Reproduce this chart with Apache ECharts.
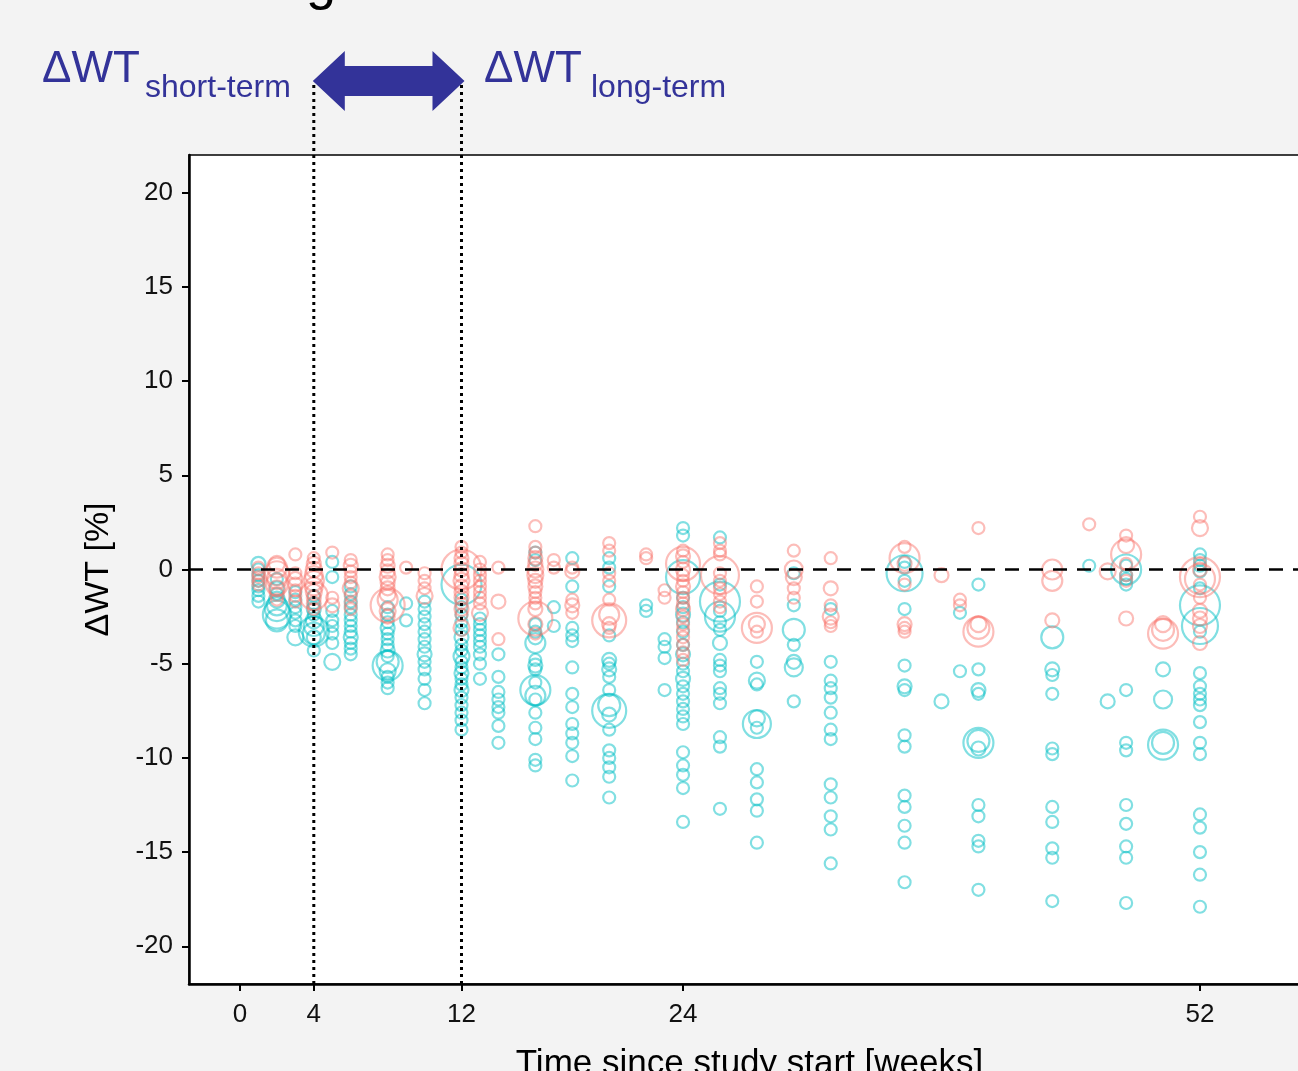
<!DOCTYPE html>
<html lang="en">
<head>
<meta charset="UTF-8">
<title>ΔWT over time</title>
<script src="https://cdn.jsdelivr.net/npm/echarts@6/dist/echarts.min.js"></script>
<style>
  html, body { margin: 0; padding: 0; background: #f3f3f3; }
  #chart { width: 1298px; height: 1071px; }
</style>
</head>
<body>
<div id="chart"></div>
<script>
var xTicks = [0, 4, 12, 24, 52];
var yTicks = [-20, -15, -10, -5, 0, 5, 10, 15, 20];
var windowWeeks = [4, 12];

// [week, ΔWT %, circle size]
var tealPts = [
  [1,0.3,14],[1,0,12],[1,-0.3,12],[1,-0.6,12],[1,-0.9,12],[1,-1.1,12],[1,-1.4,12],[1,-1.7,12],
  [2,-0.5,12],[2,-1.0,14],[2,-1.3,12],[2,-1.6,16],[2,-1.9,20],[2,-2.1,24],[2,-2.4,28],[2,-2.7,22],
  [3,-1.2,12],[3,-1.6,12],[3,-2.0,12],[3,-2.3,12],[3,-2.7,12],[3,-3.0,12],[3,-3.6,16],
  [4,-1.4,12],[4,-1.8,12],[4,-2.1,14],[4,-2.4,12],[4,-2.7,16],[4,-3.0,20],[4,-3.3,30],[4,-3.4,22],[4,-3.6,14],[4,-4.3,12],
  [5,0.4,12],[5,-0.4,12],[5,-2.2,12],[5,-2.7,12],[5,-3.0,12],[5,-3.4,12],[5,-3.9,12],[5,-4.9,16],
  [6,-0.9,12],[6,-1.3,12],[6,-1.7,12],[6,-2.0,12],[6,-2.4,12],[6,-2.7,12],[6,-3.0,12],[6,-3.3,12],[6,-3.6,14],[6,-3.9,12],[6,-4.2,12],[6,-4.5,12],
  [8,-2.0,12],[8,-2.4,12],[8,-2.8,12],[8,-3.1,14],[8,-3.4,12],[8,-3.7,12],[8,-4.0,12],[8,-4.3,14],[8,-4.6,12],[8,-4.9,22],[8,-5.1,30],[8,-5.4,16],[8,-5.7,12],[8,-6.0,12],[8,-6.3,12],
  [9,-1.8,12],[9,-2.7,12],
  [10,-1.7,12],[10,-2.1,12],[10,-2.5,12],[10,-2.9,12],[10,-3.3,12],[10,-3.7,12],[10,-4.1,12],[10,-4.5,14],[10,-4.9,12],[10,-5.3,12],[10,-5.8,12],[10,-6.4,12],[10,-7.1,12],
  [12,-0.8,40],[12,-1.6,12],[12,-2.0,12],[12,-2.4,12],[12,-2.8,12],[12,-3.2,12],[12,-3.6,14],[12,-4.0,12],[12,-4.3,12],[12,-4.6,16],[12,-4.9,12],[12,-5.2,12],[12,-5.5,14],[12,-5.8,12],[12,-6.1,12],[12,-6.4,14],[12,-6.8,12],[12,-7.2,12],[12,-7.6,12],[12,-8.0,12],[12,-8.5,12],
  [13,-2.6,12],[13,-2.9,12],[13,-3.2,12],[13,-3.5,12],[13,-3.8,12],[13,-4.1,12],[13,-4.5,12],[13,-5.0,12],[13,-5.8,12],
  [14,-4.5,12],[14,-5.7,12],[14,-6.5,12],[14,-6.9,12],[14,-7.3,12],[14,-7.6,12],[14,-8.3,12],[14,-9.2,12],
  [16,0.9,12],[16,0.5,12],[16,-2.9,12],[16,-3.3,12],[16,-3.6,14],[16,-3.9,20],[16,-4.8,12],[16,-5.1,14],[16,-5.3,12],[16,-6.0,12],[16,-6.4,30],[16,-6.7,20],[16,-6.9,12],[16,-7.6,12],[16,-8.4,12],[16,-9.0,12],[16,-10.1,12],[16,-10.4,12],
  [17,-2.0,12],[17,-3.0,12],
  [18,0.6,12],[18,-0.9,12],[18,-3.1,12],[18,-3.5,12],[18,-3.8,12],[18,-5.2,12],[18,-6.6,12],[18,-7.3,12],[18,-8.2,12],[18,-8.7,12],[18,-9.2,12],[18,-9.9,12],[18,-11.2,12],
  [20,0.6,12],[20,0.1,12],[20,-0.9,12],[20,-3.5,12],[20,-4.8,14],[20,-5.0,12],[20,-5.3,14],[20,-5.7,12],[20,-6.4,12],[20,-7.2,22],[20,-7.5,34],[20,-7.7,14],[20,-8.5,12],[20,-9.6,12],[20,-10.0,12],[20,-10.5,12],[20,-11.0,12],[20,-12.1,12],
  [22,-1.9,12],[22,-2.2,12],
  [23,-3.7,12],[23,-4.1,12],[23,-4.7,12],[23,-6.4,12],
  [24,2.2,12],[24,1.8,12],[24,-0.4,34],[24,-1.5,12],[24,-2.0,12],[24,-2.4,14],[24,-2.8,12],[24,-3.3,12],[24,-4.0,12],[24,-4.5,14],[24,-5.0,12],[24,-5.4,12],[24,-5.8,14],[24,-6.2,12],[24,-6.6,12],[24,-7.0,12],[24,-7.4,12],[24,-7.8,12],[24,-8.2,12],[24,-9.7,12],[24,-10.4,12],[24,-10.9,12],[24,-11.6,12],[24,-13.4,12],
  [26,1.7,12],[26,-0.8,12],[26,-1.7,40],[26,-2.2,12],[26,-2.5,30],[26,-2.8,12],[26,-3.2,12],[26,-3.9,14],[26,-4.8,12],[26,-5.1,12],[26,-5.4,12],[26,-6.3,12],[26,-6.6,12],[26,-7.1,12],[26,-8.9,12],[26,-9.4,12],[26,-12.7,12],
  [28,-4.9,12],[28,-5.9,16],[28,-6.1,12],[28,-7.9,16],[28,-8.2,28],[28,-8.4,12],[28,-10.6,12],[28,-11.3,12],[28,-12.2,12],[28,-12.8,12],[28,-14.5,12],
  [30,-0.2,12],[30,-1.9,12],[30,-3.2,22],[30,-4.0,12],[30,-4.9,14],[30,-5.2,18],[30,-7.0,12],
  [32,-2.1,12],[32,-4.9,12],[32,-5.9,12],[32,-6.3,12],[32,-6.8,12],[32,-7.6,12],[32,-8.5,12],[32,-9.0,12],[32,-11.4,12],[32,-12.1,12],[32,-13.1,12],[32,-13.8,12],[32,-15.6,12],
  [36,0.4,12],[36,0.1,12],[36,-0.2,36],[36,-0.6,12],[36,-2.1,12],[36,-5.1,12],[36,-6.2,14],[36,-6.4,12],[36,-8.8,12],[36,-9.4,12],[36,-12.0,12],[36,-12.6,12],[36,-13.6,12],[36,-14.5,12],[36,-16.6,12],
  [38,-7.0,14],
  [39,-2.3,12],[39,-5.4,12],
  [40,-0.8,12],[40,-5.3,12],[40,-6.4,14],[40,-6.6,12],[40,-9.1,22],[40,-9.2,30],[40,-9.5,14],[40,-12.5,12],[40,-13.1,12],[40,-14.4,12],[40,-14.7,12],[40,-17.0,12],
  [44,-3.6,22],[44,-5.3,14],[44,-5.6,12],[44,-6.6,12],[44,-9.5,12],[44,-9.8,12],[44,-12.6,12],[44,-13.4,12],[44,-14.8,12],[44,-15.3,12],[44,-17.6,12],
  [46,0.2,12],
  [47,-7.0,14],
  [48,0.2,12],[48,0,30],[48,-0.3,12],[48,-0.5,12],[48,-0.8,12],[48,-6.4,12],[48,-9.2,12],[48,-9.6,12],[48,-12.5,12],[48,-13.5,12],[48,-14.7,12],[48,-15.3,12],[48,-17.7,12],
  [50,-5.3,14],[50,-6.9,18],[50,-9.2,22],[50,-9.3,30],
  [52,0.8,12],[52,0.5,12],[52,0.2,12],[52,-0.1,12],[52,-1.0,12],[52,-1.9,40],[52,-3.0,36],[52,-3.3,12],[52,-5.5,12],[52,-6.2,12],[52,-6.6,12],[52,-6.9,12],[52,-7.2,12],[52,-8.1,12],[52,-9.2,12],[52,-9.8,12],[52,-13.0,12],[52,-13.7,12],[52,-15.0,12],[52,-16.2,12],[52,-17.9,12]
];

var salmonPts = [
  [1,0.1,12],[1,-0.2,12],[1,-0.4,12],[1,-0.6,12],[1,-0.8,12],
  [2,0.3,16],[2,0.1,20],[2,-0.2,24],[2,-0.5,20],[2,-0.8,22],[2,-1.0,16],[2,-1.3,14],[2,-1.6,12],
  [3,0.8,12],[3,-0.2,12],[3,-0.5,14],[3,-0.8,14],[3,-1.1,12],[3,-1.4,12],[3,-1.7,12],
  [4,0.6,12],[4,0.3,14],[4,0,16],[4,-0.3,18],[4,-0.6,20],[4,-0.9,18],[4,-1.2,16],[4,-1.4,28],[4,-1.5,14],[4,-1.8,14],[4,-2.1,12],
  [5,0.9,12],[5,-1.5,12],[5,-1.9,14],
  [6,0.5,12],[6,0.2,14],[6,-0.1,12],[6,-0.4,12],[6,-0.7,12],[6,-1.0,16],[6,-1.4,12],[6,-1.8,12],[6,-2.1,12],
  [8,0.8,12],[8,0.5,12],[8,0.2,14],[8,-0.1,14],[8,-0.4,16],[8,-0.7,14],[8,-1.0,14],[8,-1.3,16],[8,-1.6,20],[8,-1.9,34],[8,-2.2,16],[8,-2.5,14],
  [9,0.1,12],
  [10,-0.2,12],[10,-0.6,12],[10,-1.0,12],[10,-1.4,16],
  [12,1.2,12],[12,0.9,12],[12,0.6,14],[12,0.3,14],[12,0,40],[12,0,14],[12,-0.3,14],[12,-0.6,16],[12,-0.9,14],[12,-1.2,14],[12,-1.5,14],[12,-1.8,12],[12,-2.1,14],[12,-2.4,12],[12,-3.1,16],
  [13,0.4,12],[13,0,12],[13,-0.3,12],[13,-0.6,12],[13,-0.9,12],[13,-1.2,12],[13,-1.5,12],[13,-1.8,12],[13,-2.3,16],
  [14,0.1,12],[14,-1.7,14],[14,-3.7,12],
  [16,2.3,12],[16,1.2,12],[16,0.9,12],[16,0.6,14],[16,0.3,14],[16,0,16],[16,-0.3,16],[16,-0.6,14],[16,-0.9,14],[16,-1.2,12],[16,-1.5,12],[16,-1.8,12],[16,-2.1,14],[16,-2.6,34],[16,-2.9,14],[16,-3.4,12],
  [17,0.5,12],[17,0.1,12],
  [18,0.1,12],[18,-0.1,14],[18,-1.6,12],[18,-1.9,14],[18,-2.3,12],
  [20,1.4,12],[20,1.0,12],[20,-0.2,12],[20,-0.6,12],[20,-1.6,12],[20,-2.4,20],[20,-2.7,34],[20,-2.9,14],[20,-3.1,12],
  [22,0.8,12],[22,0.6,12],
  [23,-1.1,12],[23,-1.5,12],
  [24,1.0,12],[24,0.7,14],[24,0.4,12],[24,0.3,34],[24,0,14],[24,-0.3,12],[24,-0.6,12],[24,-0.9,14],[24,-1.2,12],[24,-1.5,12],[24,-1.8,12],[24,-2.1,14],[24,-2.5,12],[24,-2.9,12],[24,-3.2,12],[24,-3.6,12],[24,-4.0,12],[24,-4.4,12],[24,-4.8,12],
  [26,1.4,12],[26,1.0,12],[26,0.8,12],[26,-0.2,12],[26,-0.3,38],[26,-0.6,12],[26,-1.0,12],[26,-1.3,12],[26,-1.7,12],[26,-2.0,12],
  [28,-0.9,12],[28,-1.7,12],[28,-2.9,16],[28,-3.1,30],[28,-3.3,12],
  [30,1.0,12],[30,0,18],[30,-0.4,16],[30,-1.0,12],[30,-1.5,12],
  [32,0.6,12],[32,-1.0,14],[32,-1.9,12],[32,-2.5,16],[32,-2.8,12],[32,-3.0,12],
  [36,1.2,12],[36,0.6,30],[36,0.3,14],[36,-0.8,12],[36,-2.9,14],[36,-3.1,12],[36,-3.3,12],
  [38,-0.3,14],
  [39,-1.6,12],[39,-1.9,12],
  [40,2.2,12],[40,-2.9,16],[40,-3.1,22],[40,-3.3,30],
  [44,0,20],[44,-0.6,20],[44,-2.7,14],
  [46,2.4,12],
  [47,-0.1,16],
  [48,1.8,12],[48,1.3,16],[48,0.8,30],[48,0.3,12],[48,-0.3,12],[48,-0.6,12],[48,-2.6,14],
  [50,-2.9,16],[50,-3.2,22],[50,-3.4,30],
  [52,2.8,12],[52,2.2,16],[52,0.3,12],[52,0,14],[52,-0.4,40],[52,-0.5,30],[52,-0.8,12],[52,-1.5,12],[52,-2.2,14],[52,-2.6,14],[52,-3.0,14],[52,-3.9,14]
];

var FONT = 'Liberation Sans, Arial, sans-serif';
var BLUE = '#333399';

var chart = echarts.init(document.getElementById('chart'));

function circleSeries(name, data, stroke) {
  return {
    name: name,
    type: 'scatter',
    data: data,
    symbol: 'circle',
    symbolSize: function (d) { return d[2]; },
    itemStyle: { color: 'rgba(0,0,0,0)', borderColor: stroke, borderWidth: 2.2 },
    emphasis: { disabled: true },
    silent: true
  };
}

var teal = circleSeries('teal', tealPts, 'rgba(0,191,196,0.62)');
teal.markLine = {
  silent: true,
  symbol: 'none',
  label: { show: false },
  lineStyle: { color: '#000', width: 2.5, type: [14, 10] },
  data: [{ yAxis: 0 }]
};

chart.setOption({
  animation: false,
  backgroundColor: '#f3f3f3',
  grid: {
    left: 189, top: 155, width: 1121, height: 829,
    outerBoundsMode: 'none', containLabel: false,
    show: true, backgroundColor: '#fff', borderColor: '#000', borderWidth: 1.5
  },
  xAxis: {
    type: 'value', min: -2.76, max: 57.96,
    name: 'Time since study start [weeks]',
    nameLocation: 'middle', nameGap: 63,
    nameTextStyle: { fontFamily: FONT, fontSize: 35, color: '#000' },
    axisLine: { onZero: false, lineStyle: { color: '#000', width: 2.5 } },
    axisTick: { customValues: xTicks, length: 7, lineStyle: { color: '#000', width: 2 } },
    axisLabel: { customValues: xTicks, fontFamily: FONT, fontSize: 26, color: '#111', margin: 18 },
    splitLine: { show: false }
  },
  yAxis: {
    type: 'value', min: -22, max: 22,
    name: 'ΔWT [%]',
    nameLocation: 'middle', nameGap: 73, nameRotate: 90,
    nameTextStyle: { fontFamily: FONT, fontSize: 34, color: '#000' },
    axisLine: { onZero: false, lineStyle: { color: '#000', width: 2.5 } },
    axisTick: { customValues: yTicks, length: 7, lineStyle: { color: '#000', width: 2 } },
    axisLabel: { customValues: yTicks, fontFamily: FONT, fontSize: 26, color: '#111', margin: 16 },
    splitLine: { show: false }
  },
  series: [teal, circleSeries('salmon', salmonPts, 'rgba(248,118,109,0.6)')]
});

// annotations placed from the axis scale
var pA = chart.convertToPixel({ gridIndex: 0 }, [windowWeeks[0], -22]);
var pB = chart.convertToPixel({ gridIndex: 0 }, [windowWeeks[1], -22]);
var xa = pA[0], xb = pB[0], yBottom = pA[1];
var arrowY = 81, headW = 32, headH = 30, shaftH = 15;

var graphics = [
  { type: 'line', shape: { x1: xa, y1: 85, x2: xa, y2: yBottom },
    style: { stroke: '#000', lineWidth: 3, lineDash: [3, 4] }, z: 100 },
  { type: 'line', shape: { x1: xb, y1: 85, x2: xb, y2: yBottom },
    style: { stroke: '#000', lineWidth: 3, lineDash: [3, 4] }, z: 100 },
  { type: 'polygon', z: 100,
    shape: { points: [
      [xa - 1, arrowY], [xa - 1 + headW, arrowY - headH], [xa - 1 + headW, arrowY - shaftH],
      [xb + 3 - headW, arrowY - shaftH], [xb + 3 - headW, arrowY - headH], [xb + 3, arrowY],
      [xb + 3 - headW, arrowY + headH], [xb + 3 - headW, arrowY + shaftH],
      [xa - 1 + headW, arrowY + shaftH], [xa - 1 + headW, arrowY + headH]
    ] },
    style: { fill: BLUE } },
  { type: 'text', x: 42, y: 70, style: { text: 'ΔWT', font: '44px ' + FONT, fill: BLUE, verticalAlign: 'middle' } },
  { type: 'text', x: 145, y: 88, style: { text: 'short-term', font: '32px ' + FONT, fill: BLUE, verticalAlign: 'middle' } },
  { type: 'text', x: 484, y: 70, style: { text: 'ΔWT', font: '44px ' + FONT, fill: BLUE, verticalAlign: 'middle' } },
  { type: 'text', x: 591, y: 88, style: { text: 'long-term', font: '32px ' + FONT, fill: BLUE, verticalAlign: 'middle' } },
  { type: 'text', x: 306, y: -16, style: { text: 'g', font: '54px ' + FONT, fill: '#000', verticalAlign: 'middle' } }
];
chart.setOption({ graphic: graphics });
</script>
</body>
</html>
